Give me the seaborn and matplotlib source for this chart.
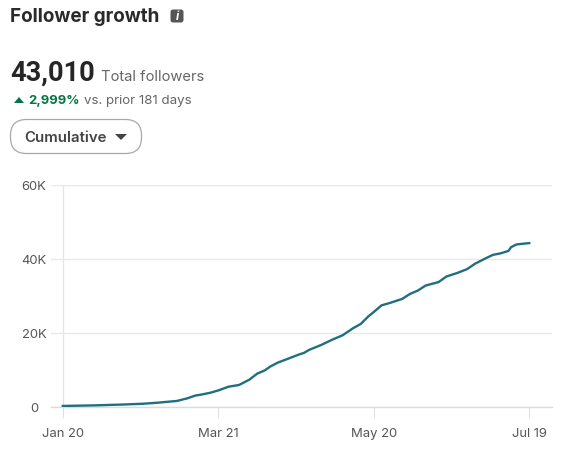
import pandas as pd
import matplotlib
matplotlib.use("Agg")
import matplotlib.pyplot as plt
import seaborn as sns
from matplotlib.patches import FancyBboxPatch, Polygon

# values
days = [0, 12, 24, 31, 37, 40, 44, 48, 51, 54, 57, 60, 64, 68, 72, 75, 78, 80, 83, 87, 91, 93, 95,
        100, 104, 108, 112, 115, 118, 120, 123, 126, 131, 134, 137, 140, 145, 148, 152, 156, 159,
        163, 166, 169, 172, 173, 175, 177, 180]
followers = [150, 300, 550, 750, 1050, 1250, 1500, 2200, 2930, 3300, 3740, 4350, 5370, 5830, 7270,
             8900, 9800, 10800, 11900, 12960, 14050, 14500, 15320, 16760, 18110, 19300, 21200,
             22370, 24460, 25600, 27400, 28000, 29150, 30500, 31400, 32760, 33700, 35200, 36120,
             37200, 38640, 40080, 41080, 41500, 42150, 43170, 43880, 44050, 44260]
tick_days = [0, 60, 120, 180]
tick_labels = ["Jan 20", "Mar 21", "May 20", "Jul 19"]
y_ticks = [0, 20000, 40000, 60000]
y_labels = ["0", "20K", "40K", "60K"]

W, H = 567, 452
plt.rcParams['font.family'] = ['Inter', 'DejaVu Sans']

df = pd.DataFrame({"day": days, "followers": followers})

fig = plt.figure(figsize=(W / 100, H / 100), dpi=100)

# chart area, the gridlines run from x=52 to x=553
left, right, top, bottom = 51.3, 552.3, 186, 407.5
ax = fig.add_axes([left / W, 1 - bottom / H, (right - left) / W, (bottom - top) / H])
sns.lineplot(data=df, x="day", y="followers", ax=ax, color="#1f6f80", linewidth=1.7, zorder=3)
ax.set_xlim(-4.44, 188.9)
ax.set_ylim(0, 60000)
ax.set_xlabel("")
ax.set_ylabel("")
for name in ["top", "right", "left"]:
    ax.spines[name].set_visible(False)
ax.spines["bottom"].set_color("#dcdcdc")
ax.spines["bottom"].set_linewidth(1.0)
ax.patch.set_alpha(0)
ax.set_yticks(y_ticks, y_labels, ha="center")
ax.set_xticks(tick_days, tick_labels)
ax.tick_params(axis="y", length=0, pad=12.5, labelsize=9.4, labelcolor="#555555")
ax.tick_params(axis="x", length=8, width=0.8, color="#e0e0e0", pad=6.5, labelsize=9.4, labelcolor="#555555")
ax.grid(axis="y", color="#e9e9e9", linewidth=1.0)
ax.axvline(0, color="#e4e4e4", linewidth=0.9, zorder=1)

# header, drawn in pixel coordinates
head = fig.add_axes([0, 0, 1, 1])
head.set_xlim(0, W)
head.set_ylim(H, 0)
head.axis("off")
head.patch.set_alpha(0)

head.text(10, 16.5, "Follower growth", fontsize=13.6, fontweight="bold", color="#2a2a2a", va="center")
head.add_patch(FancyBboxPatch((170.5, 10.5), 13, 13, boxstyle="round,pad=0,rounding_size=2.5",
                              fc="#555555", ec="none"))
head.text(177, 17, "i", fontsize=8.5, fontweight="bold", style="italic", color="white",
          ha="center", va="center")

head.text(10, 73.5, "43,010", fontsize=19.6, fontweight="bold", family=["Roboto", "DejaVu Sans"],
          color="#262626", va="center")
head.text(101, 77, "Total followers", fontsize=10.6, color="#666666", va="center")

head.add_patch(Polygon([[14, 104], [24, 104], [19, 98]], closed=True, fc="#057642", ec="none"))
head.text(28, 101, "2,999%", fontsize=9.4, fontweight="bold", color="#057642", va="center")
head.text(84, 101, "vs. prior 181 days", fontsize=9.6, color="#666666", va="center")

head.add_patch(FancyBboxPatch((10.5, 120.5), 131, 34, boxstyle="round,pad=0,rounding_size=16",
                              fc="white", ec="#a8a8a8", linewidth=0.9))
head.text(24, 138, "Cumulative", fontsize=10.8, fontweight="semibold", color="#444444", va="center")
head.add_patch(Polygon([[115, 135], [127, 135], [121, 141]], closed=True, fc="#444444", ec="none"))

fig.savefig("out.png", dpi=100)
